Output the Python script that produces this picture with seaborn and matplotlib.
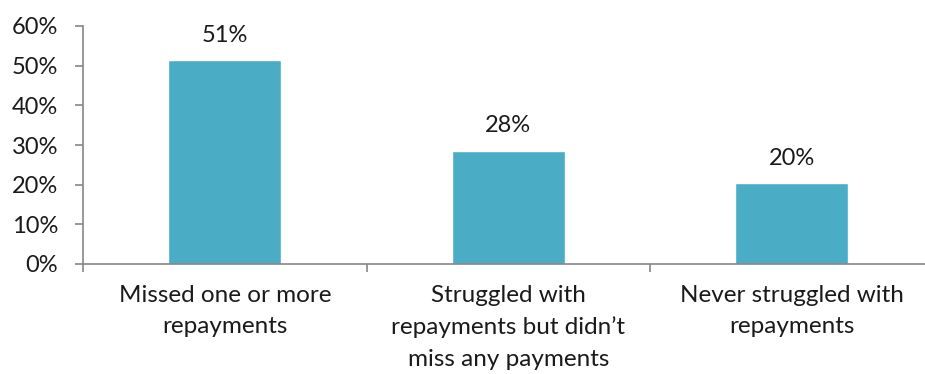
import matplotlib
matplotlib.use("Agg")
import matplotlib.pyplot as plt
import seaborn as sns
from matplotlib.ticker import FixedLocator

# Chart data
categories = [
    "Missed one or more\nrepayments",
    "Struggled with\nrepayments but didn\u2019t\nmiss any payments",
    "Never struggled with\nrepayments",
]
values = [51.4, 28.5, 20.4]
value_labels = ["51%", "28%", "20%"]
y_ticks = [0, 10, 20, 30, 40, 50, 60]

bar_color = "#4BACC6"
axis_color = "#868686"
text_color = "#1a1a1a"
fs = 17

sns.set_theme(style="white")
plt.rcParams["font.family"] = ["Lato", "DejaVu Sans"]

fig = plt.figure(figsize=(9.25, 3.74), dpi=100)
ax = fig.add_axes([83 / 925, (374 - 264) / 374, 1 - 83 / 925, (264 - 26) / 374])

sns.barplot(x=categories, y=values, color=bar_color, width=0.4, saturation=1, ax=ax)

# value labels above bars
for i, (v, lab) in enumerate(zip(values, value_labels)):
    ax.annotate(lab, (i, v), xytext=(0, 18), textcoords="offset points",
                ha="center", va="center", fontsize=fs, color=text_color)

ax.set_ylim(0, 60)
ax.set_xlim(-0.5, 2.47)
ax.set_yticks(y_ticks)
ax.set_yticklabels([f"{t}%" for t in y_ticks], fontsize=fs, color=text_color)

# categories labelled at centre, ticks at boundaries
ax.tick_params(axis="x", which="major", length=0, pad=15, labelsize=17.5, labelcolor=text_color)
ax.xaxis.set_minor_locator(FixedLocator([-0.5, 0.5, 1.5, 2.5]))
ax.tick_params(axis="x", which="minor", bottom=True, length=6, width=1.2, color=axis_color, direction="out")
ax.tick_params(axis="y", left=True, length=6, width=1.2, color=axis_color, direction="out", pad=12)
for lbl in ax.get_xticklabels():
    lbl.set_linespacing(1.6)

sns.despine(ax=ax, top=True, right=True)
for s in ["left", "bottom"]:
    ax.spines[s].set_color(axis_color)
    ax.spines[s].set_linewidth(1.2)

ax.set_xlabel("")
ax.set_ylabel("")

fig.savefig("out.png", dpi=100)
